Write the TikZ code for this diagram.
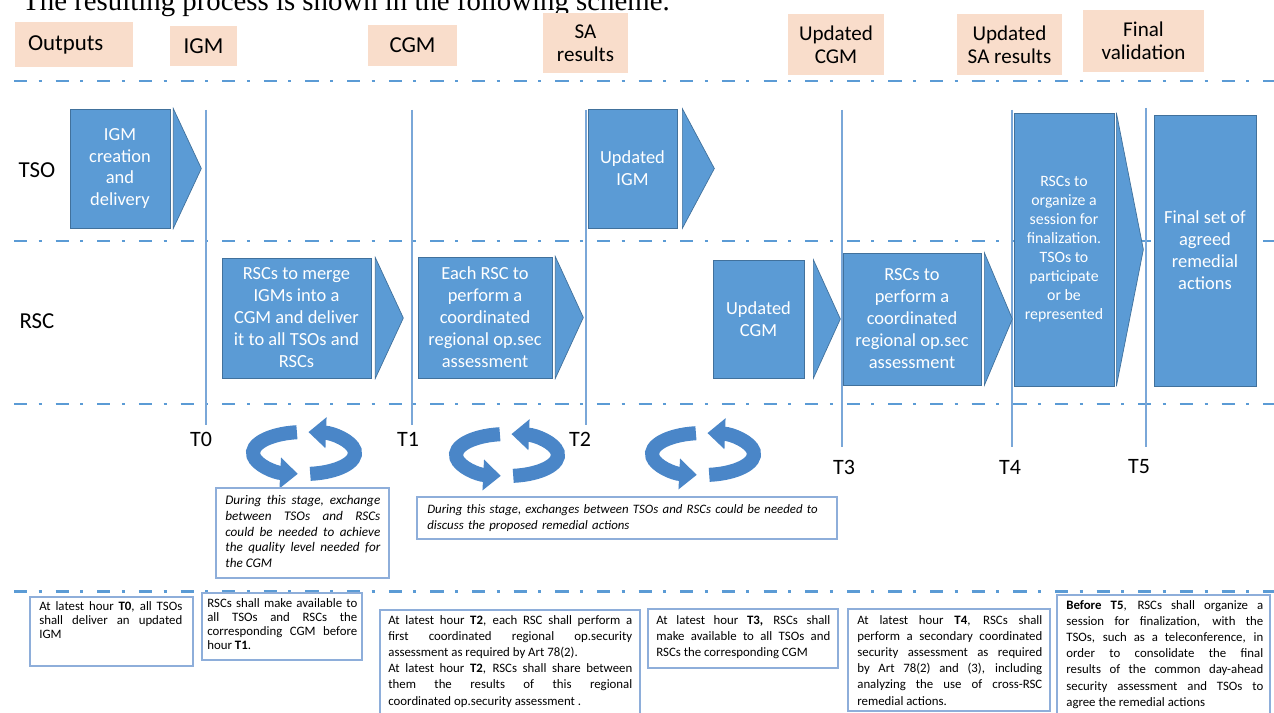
\documentclass[tikz,border=0pt]{standalone}
\usepackage{fontspec}
\setmainfont{Carlito}
\newfontfamily\titlefont{Liberation Serif}
\usetikzlibrary{arrows.meta}

\definecolor{chevblue}{HTML}{5B9BD5}
\definecolor{chevedge}{HTML}{41719C}
\definecolor{peach}{HTML}{F9DDCB}
\definecolor{sepblue}{HTML}{5B9BD5}
\definecolor{tlineblue}{HTML}{7AA7D8}
\definecolor{cycblue}{HTML}{4A86C8}
\definecolor{frameblue}{HTML}{8EAEDA}

\tikzset{
  hdr/.style={fill=peach, inner sep=0pt, align=center, font=\fontsize{13}{14}\selectfont},
  hdrtwo/.style={hdr, font=\fontsize{12}{13}\selectfont},
  lanelabel/.style={inner sep=0pt, font=\fontsize{13}{14}\selectfont},
  chev/.style={fill=chevblue, draw=chevedge, line width=0.4pt, text=white, align=center,
    inner sep=0pt, font=\fontsize{10.5}{12.5}\selectfont},
  chevtip/.style={fill=chevblue, draw=chevedge, line width=0.4pt},
  lanesep/.style={sepblue, line width=1.7pt, dash pattern=on 7.5pt off 6.5pt on 1.7pt off 8pt},
  tline/.style={tlineblue, line width=0.7pt},
  tlabel/.style={inner sep=0pt, font=\fontsize{12.5}{14}\selectfont},
  cyc/.style={cycblue, line width=8pt, -{Triangle[width=17pt,length=10pt]}},
  noteframe/.style={frameblue, line width=0.8pt},
  itnote/.style={anchor=north west, inner sep=0pt, align=justify, font=\itshape\fontsize{7.5}{9}\selectfont},
  rulenote/.style={anchor=north west, inner sep=0pt, align=justify, font=\fontsize{7.3}{9.2}\selectfont}
}

\begin{document}
\begin{tikzpicture}[x=0.02cm, y=-0.02cm]
  \useasboundingbox (0,0) rectangle (1274,713);
  \fill[white] (0,0) rectangle (1274,713);

  \node[anchor=base west, inner sep=0pt, font=\titlefont\fontsize{16.4}{18}\selectfont] (title) at (22,11)
    {The resulting process is shown in the following scheme.};

  % outputs row
  \node[hdr, minimum width=2.36cm, minimum height=0.9cm, text width=1.84cm, align=left] (hout) at (74,44.5) {Outputs};
  \node[hdr, minimum width=1.34cm, minimum height=0.8cm] (higm) at (203.5,46) {IGM};
  \node[hdr, minimum width=1.78cm, minimum height=0.82cm] (hcgm) at (412.5,45.5) {CGM};
  \node[hdrtwo, minimum width=1.7cm, minimum height=1.2cm] (hsa) at (585.5,43) {SA\\results};
  \node[hdrtwo, minimum width=1.92cm, minimum height=1.22cm] (hucgm) at (836,44.5) {Updated\\CGM};
  \node[hdrtwo, minimum width=2.1cm, minimum height=1.22cm] (husa) at (1009.5,44.5) {Updated\\SA results};
  \node[hdrtwo, minimum width=2.42cm, minimum height=1.24cm] (hfin) at (1143.5,41) {Final\\validation};

  % lane separators
  \draw[lanesep] (14,81) -- (1274,81);
  \draw[lanesep] (14,241) -- (1274,241);
  \draw[lanesep] (14,404) -- (1274,404);
  \draw[lanesep] (14,591) -- (1274,591);

  % time lines
  \draw[tline] (206,110) -- (206,425);
  \draw[tline] (412,110) -- (412,425);
  \draw[tline] (586,110) -- (586,425);
  \draw[tline] (842,110) -- (842,447);
  \draw[tline] (1012,110) -- (1012,447);
  \draw[tline] (1146,108) -- (1146,447);

  \node[lanelabel] (tso) at (37,170) {TSO};
  \node[lanelabel] (rsc) at (37,321) {RSC};

  % TSO lane
  \node[chev, minimum width=2.0cm, minimum height=2.38cm] (igm) at (120,168.5) {IGM\\creation\\and\\delivery};
  \filldraw[chevtip] ([shift={(3,0)}]igm.north east) -- ([shift={(31,0)}]igm.east) -- ([shift={(3,0)}]igm.south east) -- cycle;
  \node[chev, minimum width=1.78cm, minimum height=2.38cm] (updigm) at (632.5,168.5) {Updated\\IGM};
  \filldraw[chevtip] ([shift={(5,0)}]updigm.north east) -- ([shift={(37,0)}]updigm.east) -- ([shift={(5,0)}]updigm.south east) -- cycle;

  % RSC lane
  \node[chev, minimum width=2.98cm, minimum height=2.4cm] (merge) at (296.5,318) {RSCs to merge\\IGMs into a\\CGM and deliver\\it to all TSOs and\\RSCs};
  \filldraw[chevtip] ([shift={(4,0)}]merge.north east) -- ([shift={(32,0)}]merge.east) -- ([shift={(4,0)}]merge.south east) -- cycle;
  \node[chev, minimum width=2.68cm, minimum height=2.42cm] (eachrsc) at (485,317.5) {Each RSC to\\perform a\\coordinated\\regional op.sec\\assessment};
  \filldraw[chevtip] ([shift={(3,0)}]eachrsc.north east) -- ([shift={(31,0)}]eachrsc.east) -- ([shift={(3,0)}]eachrsc.south east) -- cycle;
  \node[chev, minimum width=1.82cm, minimum height=2.36cm] (updcgm) at (758.5,319) {Updated\\CGM};
  \filldraw[chevtip] ([shift={(9,0)}]updcgm.north east) -- ([shift={(36,0)}]updcgm.east) -- ([shift={(9,0)}]updcgm.south east) -- cycle;
  \node[chev, minimum width=2.76cm, minimum height=2.64cm] (perform) at (912,319) {RSCs to\\perform a\\coordinated\\regional op.sec\\assessment};
  \filldraw[chevtip] ([shift={(3,0)}]perform.north east) -- ([shift={(31,0)}]perform.east) -- ([shift={(3,0)}]perform.south east) -- cycle;

  % both lanes
  \node[chev, minimum width=2.0cm, minimum height=5.46cm, font=\fontsize{9}{10.8}\selectfont] (organize) at (1064,249.5)
    {RSCs to\\organize a\\session for\\finalization.\\TSOs to\\participate\\or be\\represented};
  \filldraw[chevtip] ([shift={(2,0)}]organize.north east) -- ([shift={(29,0)}]organize.east) -- ([shift={(2,0)}]organize.south east) -- cycle;
  \node[chev, minimum width=2.04cm, minimum height=5.42cm] (finalset) at (1205,250.5) {Final set of\\agreed\\remedial\\actions};

  % time labels
  \node[tlabel] (T0) at (201,439) {T0};
  \node[tlabel] (T1) at (408,439) {T1};
  \node[tlabel] (T2) at (580,439) {T2};
  \node[tlabel] (T3) at (844,467) {T3};
  \node[tlabel] (T4) at (1010,467) {T4};
  \node[tlabel] (T5) at (1139,467) {T5};

  % exchange cycles
  \coordinate (c1) at (304,453);
  \coordinate (c2) at (507,455);
  \coordinate (c3) at (703,454);
  \draw[cyc] ([shift={(262:51 and 21)}]c1) arc[start angle=262, end angle=97, x radius=51, y radius=21];
  \draw[cyc] ([shift={(83:51 and 21)}]c1) arc[start angle=83, end angle=-85, x radius=51, y radius=21];
  \draw[cyc] ([shift={(262:51 and 21)}]c2) arc[start angle=262, end angle=97, x radius=51, y radius=21];
  \draw[cyc] ([shift={(83:51 and 21)}]c2) arc[start angle=83, end angle=-85, x radius=51, y radius=21];
  \draw[cyc] ([shift={(262:51 and 21)}]c3) arc[start angle=262, end angle=97, x radius=51, y radius=21];
  \draw[cyc] ([shift={(83:51 and 21)}]c3) arc[start angle=83, end angle=-85, x radius=51, y radius=21];

  % stage notes
  \draw[noteframe] (216,488) rectangle (389,578);
  \node[itnote, text width=3.1cm] (m1) at (225,495)
    {During this stage, exchange\linebreak between TSOs and RSCs\linebreak could be needed to achieve\linebreak the quality level needed for\linebreak the CGM};
  \draw[noteframe] (417,497) rectangle (837,539);
  \node[itnote, align=left, text width=8.1cm, font=\itshape\fontsize{7.3}{9}\selectfont] (m2) at (427,504)
    {During this stage, exchanges between TSOs and RSCs could be needed to\\discuss the proposed remedial actions};

  % deadlines
  \draw[noteframe] (30,597) rectangle (193,666);
  \node[rulenote, text width=2.86cm, font=\fontsize{7.3}{8.1}\selectfont] (b1) at (39,601)
    {At latest hour \textbf{T0}, all TSOs\linebreak shall deliver an updated\linebreak IGM};
  \draw[noteframe] (202,593) rectangle (362,660);
  \node[rulenote, text width=3.0cm, font=\fontsize{7.3}{8.1}\selectfont] (b2) at (207,598)
    {RSCs shall make available to\linebreak all TSOs and RSCs the\linebreak corresponding CGM before\linebreak hour \textbf{T1}.};
  \draw[noteframe] (380,610) rectangle (640,725);
  \node[rulenote, text width=4.88cm] (b3) at (388,615)
    {At latest hour \textbf{T2}, each RSC shall perform a\linebreak first coordinated regional op.security\linebreak assessment as required by Art 78(2).\par
     At latest hour \textbf{T2}, RSCs shall share between\linebreak them the results of this regional\linebreak coordinated op.security assessment .};
  \draw[noteframe] (648,609) rectangle (838,668);
  \node[rulenote, text width=3.48cm] (b4) at (656,615)
    {At latest hour \textbf{T3,} RSCs shall\linebreak make available to all TSOs and\linebreak RSCs the corresponding CGM};
  \draw[noteframe] (848,609) rectangle (1050,711);
  \node[rulenote, text width=3.7cm] (b5) at (857,615)
    {At latest hour \textbf{T4}, RSCs shall\linebreak perform a secondary coordinated\linebreak security assessment as required\linebreak by Art 78(2) and (3), including\linebreak analyzing the use of cross-RSC\linebreak remedial actions.};
  \draw[noteframe] (1057,595) rectangle (1270,725);
  \node[rulenote, text width=3.94cm] (b6) at (1066,600)
    {\textbf{Before T5}, RSCs shall organize a\linebreak session for finalization, with the\linebreak TSOs, such as a teleconference, in\linebreak order to consolidate the final\linebreak results of the common day-ahead\linebreak security assessment and TSOs to\linebreak agree the remedial actions};
\end{tikzpicture}
\end{document}
